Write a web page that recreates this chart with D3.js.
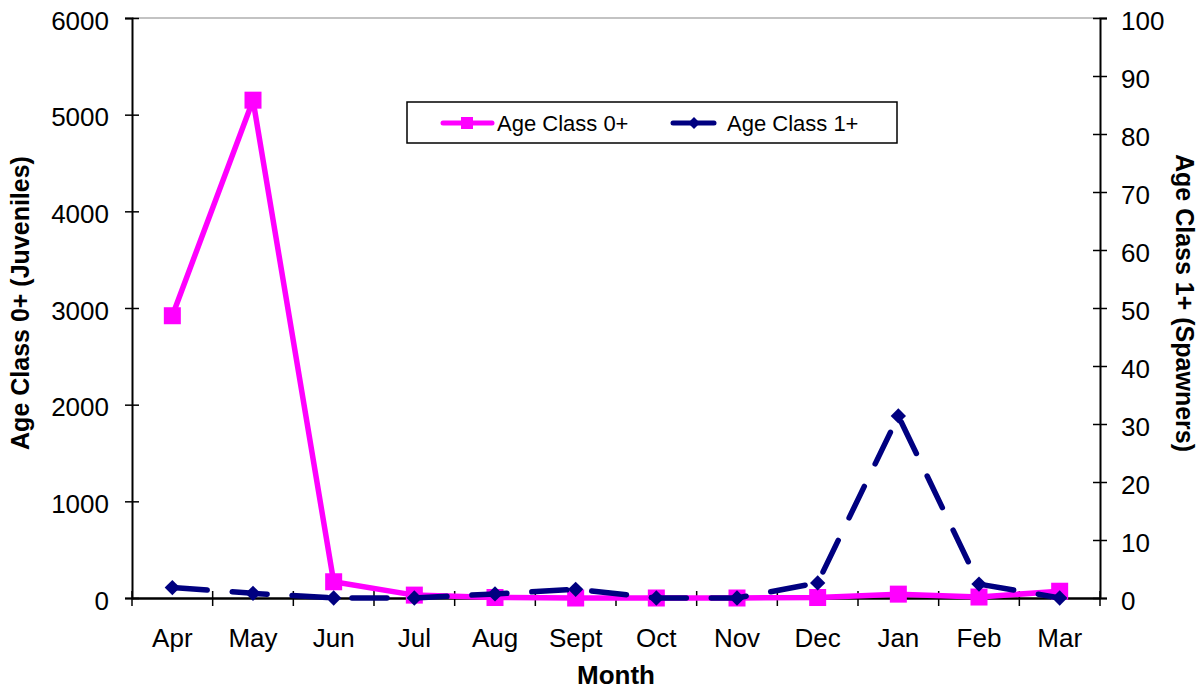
<!DOCTYPE html>
<html><head><meta charset="utf-8">
<script src="https://cdn.jsdelivr.net/npm/d3@7"></script>
<style>body{margin:0;background:#fff}svg{display:block}text{font-family:"Liberation Sans",Arial,sans-serif}</style>
</head><body><svg id="c" width="1201" height="690"></svg>
<script>
const months = ["Apr","May","Jun","Jul","Aug","Sept","Oct","Nov","Dec","Jan","Feb","Mar"];
const age0 = [2920,5150,168,30,5,0,0,0,5,40,10,70];
const age1 = [1.8,0.8,0,0,0.7,1.5,0,0,2.6,31.4,2.4,0];
const leftTicks = [0,1000,2000,3000,4000,5000,6000];
const rightTicks = [0,10,20,30,40,50,60,70,80,90,100];

const svg = d3.select("#c");
const L=132, R=1100, T=18, B=598;
const x = d3.scaleBand().domain(months).range([L,R]);
const yL = d3.scaleLinear().domain([0,6000]).range([B,T]);
const yR = d3.scaleLinear().domain([0,100]).range([B,T]);

svg.append("line").attr("x1",L).attr("x2",R).attr("y1",T).attr("y2",T).attr("stroke","#888").attr("stroke-width",1.2);

const gL = svg.append("g").attr("transform",`translate(${L},0)`)
  .call(d3.axisLeft(yL).tickValues(leftTicks).tickSize(7).tickFormat(d3.format("d")));
const gR = svg.append("g").attr("transform",`translate(${R},0)`)
  .call(d3.axisRight(yR).tickValues(rightTicks).tickSize(7).tickFormat(d3.format("d")));
const gX = svg.append("g").attr("transform",`translate(0,${B})`)
  .call(d3.axisBottom(x).tickSize(0));
[gL,gR,gX].forEach(g=>{
  g.select(".domain").attr("stroke","#000").attr("stroke-width",2);
  g.selectAll("text").attr("font-size",26).attr("fill","#000");
});
gL.selectAll(".tick line").attr("x1",7).attr("stroke","#000").attr("stroke-width",1.5);
gL.selectAll(".tick text").attr("x",-23).attr("dy","0.43em");
gR.selectAll(".tick line").attr("x1",-7).attr("stroke","#000").attr("stroke-width",1.5);
gR.selectAll(".tick text").attr("x",21).attr("dy","0.43em");
gX.selectAll(".tick text").attr("y",49).attr("dy",null);
gX.select(".domain").attr("stroke-width",2.5);
const seps = months.map(m=>x(m)).concat([R]);
gX.selectAll(".sep").data(seps).enter().append("line")
  .attr("x1",d=>d).attr("x2",d=>d).attr("y1",-7).attr("y2",8).attr("stroke","#000").attr("stroke-width",1.5);

const cx = m => x(m)+x.bandwidth()/2;
svg.append("path").datum(age0).attr("fill","none").attr("stroke","#ff00ff").attr("stroke-width",5.5)
  .attr("stroke-linejoin","round")
  .attr("d", d3.line().x((d,i)=>cx(months[i])).y(d=>yL(d)));
svg.selectAll(".sq").data(age0).enter().append("rect")
  .attr("x",(d,i)=>cx(months[i])-8.5).attr("y",d=>yL(d)-8.5).attr("width",17).attr("height",17).attr("fill","#ff00ff");
svg.append("path").datum(age1).attr("fill","none").attr("stroke","#000080").attr("stroke-width",5.5)
  .attr("stroke-dasharray","35,25").attr("stroke-linecap","round")
  .attr("d", d3.line().x((d,i)=>cx(months[i])).y(d=>yR(d)));
const dia = d3.symbol().type(d3.symbolDiamond2).size(150)();
svg.selectAll(".dm").data(age1).enter().append("path")
  .attr("d",dia).attr("transform",(d,i)=>`translate(${cx(months[i])},${yR(d)})`).attr("fill","#000080");

svg.append("text").attr("x",(L+R)/2).attr("y",684).attr("text-anchor","middle").attr("font-size",26).attr("font-weight","bold").text("Month");
svg.append("text").attr("transform",`translate(29,303) rotate(-90)`).attr("text-anchor","middle").attr("font-size",25).attr("font-weight","bold").text("Age Class 0+ (Juveniles)");
svg.append("text").attr("transform",`translate(1176,303) rotate(90)`).attr("text-anchor","middle").attr("font-size",25).attr("font-weight","bold").text("Age Class 1+ (Spawners)");

const lg = svg.append("g");
lg.append("rect").attr("x",407).attr("y",102).attr("width",490).attr("height",41).attr("fill","#fff").attr("stroke","#000").attr("stroke-width",1.5);
lg.append("line").attr("x1",443).attr("x2",492).attr("y1",123).attr("y2",123).attr("stroke","#ff00ff").attr("stroke-width",5).attr("stroke-linecap","round");
lg.append("rect").attr("x",461).attr("y",117).attr("width",12).attr("height",12).attr("fill","#ff00ff");
lg.append("text").attr("x",497).attr("y",131).attr("font-size",22).text("Age Class 0+");
lg.append("line").attr("x1",673).attr("x2",714).attr("y1",123).attr("y2",123).attr("stroke","#000080").attr("stroke-width",5).attr("stroke-linecap","round");
lg.append("path").attr("d",d3.symbol().type(d3.symbolDiamond2).size(90)()).attr("transform","translate(694,123)").attr("fill","#000080");
lg.append("text").attr("x",727).attr("y",131).attr("font-size",22).text("Age Class 1+");
</script></body></html>
